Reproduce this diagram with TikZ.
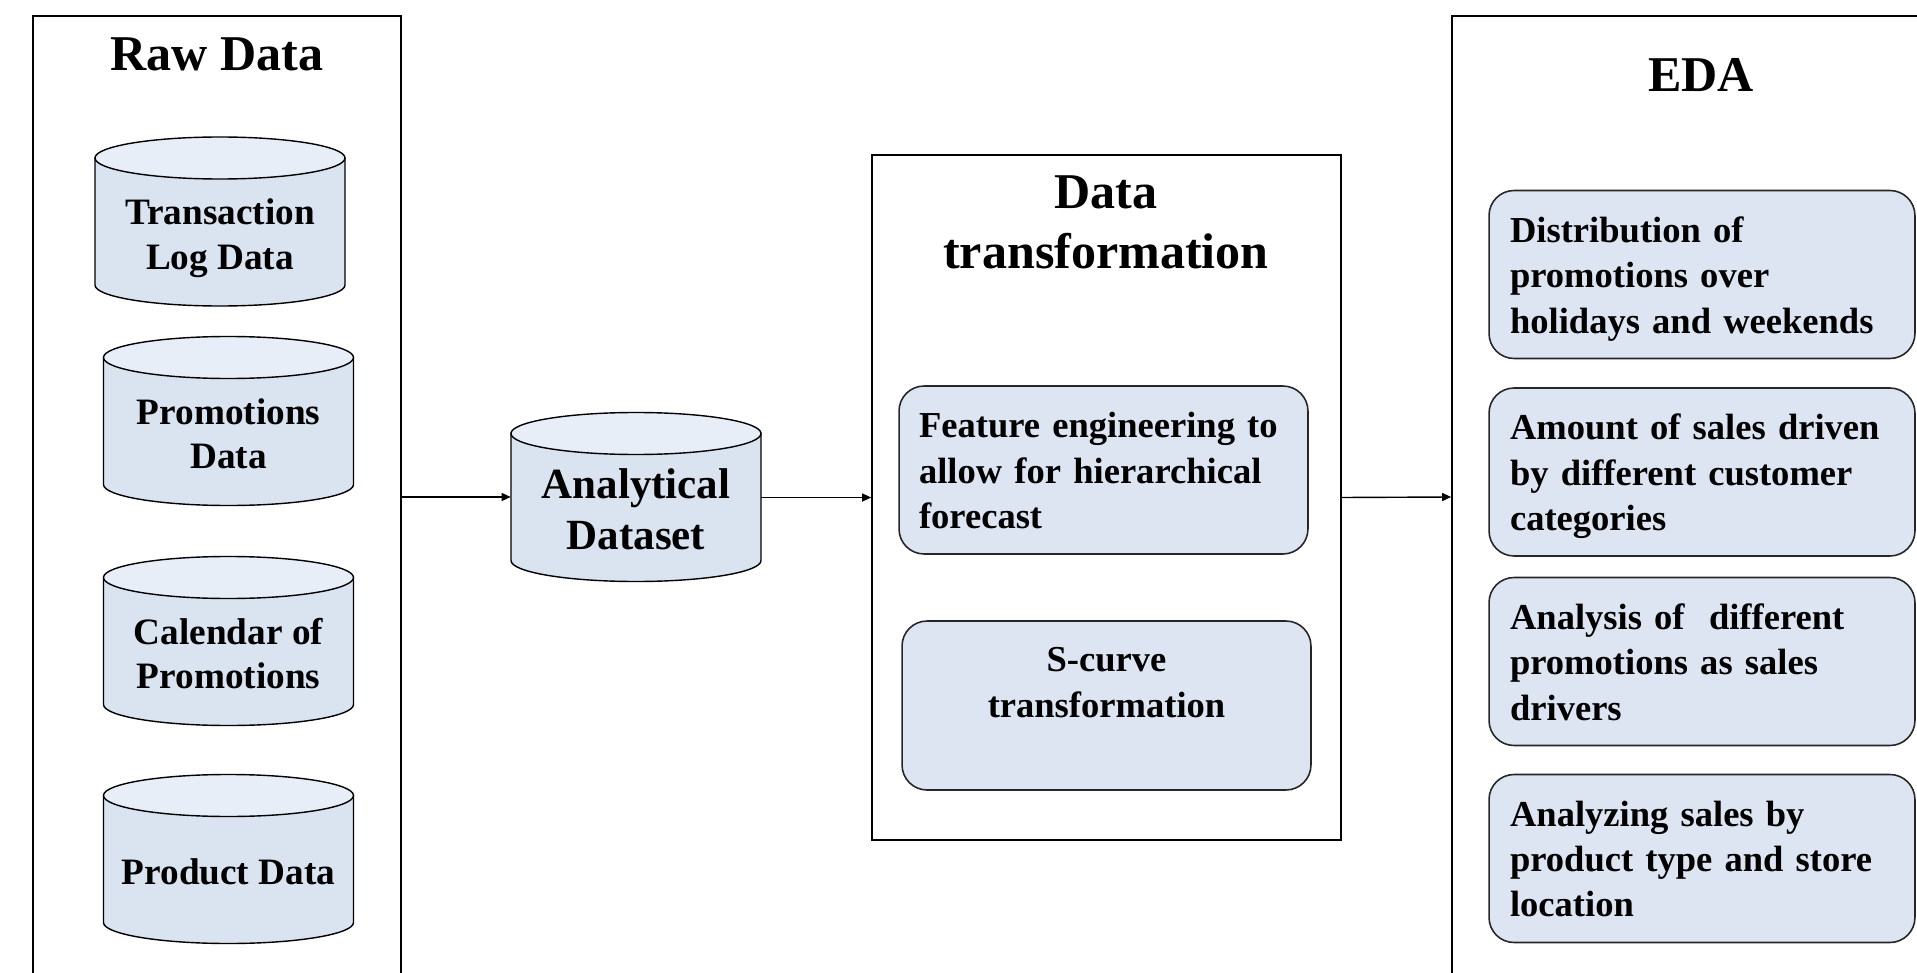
\documentclass[tikz,border=0pt]{standalone}
\usepackage{fontspec}
\setmainfont{Liberation Serif}
\usetikzlibrary{arrows.meta,calc,backgrounds}
\definecolor{dbbody}{HTML}{DAE3F0}
\definecolor{dbtop}{HTML}{E8EEF7}
\definecolor{stepfill}{HTML}{DCE5F1}
\newcommand{\fs}[2]{\bfseries\fontsize{#1}{#2}\selectfont}

\begin{document}
\begin{tikzpicture}[x=.02cm,y=-.02cm,
panel/.style={draw,line width=1pt,inner sep=0pt},
ttl/.style={font=\fs{28.5}{34.1},align=center,inner sep=0pt},
db/.style={minimum width=5cm,inner sep=0pt,align=center,text depth=0pt,font=\fs{21.2}{25.3}},
dbline/.style={draw,line width=.8pt},
stepbox/.style={draw=black!85,fill=stepfill,line width=.9pt,rounded corners=.5cm,inner xsep=.4cm,inner ysep=0pt,minimum height=3.36cm,align=left,text depth=1.8cm,font=\fs{20.8}{25.8}},
flow/.style={-{Triangle[length=.18cm,width=.16cm]},line width=.8pt}]
\clip(0,0)rectangle(1917,973);
\node[panel,minimum width=7.36cm,minimum height=19.24cm](raw)at(217,497){};\node[ttl](rawt)at(217,54){Raw Data};
\node[db](tld)at(220,234){Transaction\\Log Data};
\node[db](prd)at(228.5,433.5){Promotions\\Data};
\node[db](cal)at(228.5,653.5){Calendar of\\Promotions};
\node[db](pdt)at(228.5,871.5){Product Data};
\node[db,font=\fs{24.5}{29}](ads)at(636,509.5){Analytical\\Dataset};
\begin{scope}[on background layer]
\foreach\n in{tld,prd,cal,pdt,ads}{\draw[dbline,fill=dbbody]($(\n.center)+(-125,-76)$)--($(\n.center)+(-125,51)$)arc[start angle=180,end angle=0,x radius=125,y radius=21]--($(\n.center)+(125,-76)$)--cycle;\draw[dbline,fill=dbtop]($(\n.center)+(0,-76)$)ellipse[x radius=125,y radius=21];}
\end{scope}
\node[panel,minimum width=9.38cm,minimum height=13.7cm](dt)at(1106.5,497.5){};\node[ttl](dtt)at(1106,222){Data\\transformation};
\node[stepbox,minimum width=8.14cm,text width=7.38cm](feat)at(1103.5,470){Feature engineering to\\allow for hierarchical\\forecast};
\node[stepbox,minimum width=8.18cm,minimum height=3.38cm,align=center,text depth=.92cm](scv)at(1106.5,705.5){S-curve\\transformation};
\node[panel,minimum width=9.96cm,minimum height=19.24cm](eda)at(1701,497){};\node[ttl](edat)at(1701,75){EDA};
\node[stepbox,minimum width=8.52cm,text width=7.68cm](e1)at(1702,274.5){Distribution of\\promotions over\\holidays and weekends};
\node[stepbox,minimum width=8.52cm,text width=7.68cm](e2)at(1702,472){Amount of sales driven\\by different customer\\categories};
\node[stepbox,minimum width=8.52cm,text width=7.68cm](e3)at(1702,661.5){Analysis of~ different\\promotions as sales\\drivers};
\node[stepbox,minimum width=8.52cm,text width=7.68cm](e4)at(1702,858.5){Analyzing sales by\\product type and store\\location};
\draw[flow](raw.east)--(raw.east-|ads.west);\draw[flow](dt.west-|ads.east)--(dt.west);\draw[flow](dt.east)--(eda.west);
\end{tikzpicture}
\end{document}
